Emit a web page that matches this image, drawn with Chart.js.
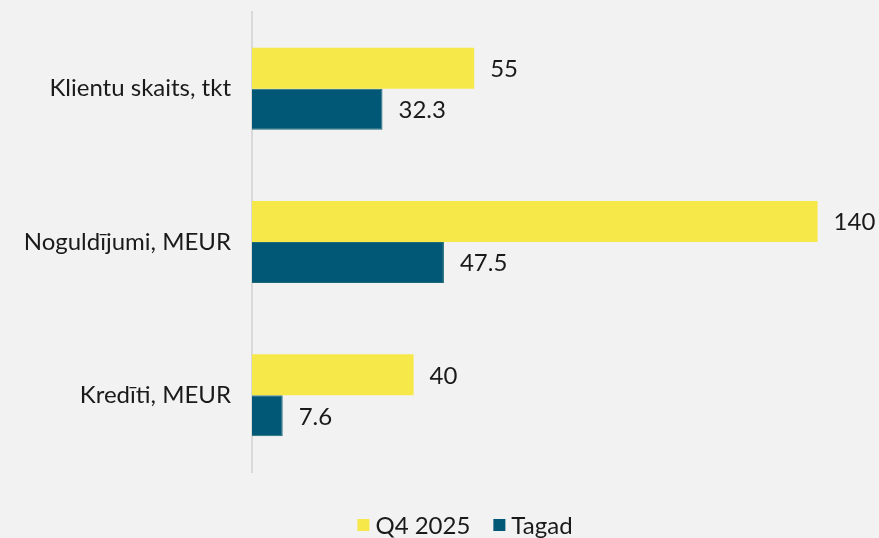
<!DOCTYPE html>
<html>
<head>
<meta charset="utf-8">
<script src="https://cdn.jsdelivr.net/npm/chart.js@4.4.0/dist/chart.umd.min.js"></script>
<style>
  html, body { margin: 0; padding: 0; background: #f2f2f2; }
  #wrap { width: 879px; height: 538px; position: relative; }
</style>
</head>
<body>
<div id="wrap"><canvas id="chart"></canvas></div>
<script>
// Dati
const categories = ['Klientu skaits, tkt', 'Noguldījumi, MEUR', 'Kredīti, MEUR'];
const q4Values = [55, 140, 40];
const tagadValues = [32.3, 47.5, 7.6];
const seriesLabels = ['Q4 2025', 'Tagad'];

const FONT = 'Lato, "Open Sans", sans-serif';
const TEXT_COLOR = '#1a1a1a';

// Fons
const bgPlugin = {
    id: 'bg',
    beforeDraw(chart) {
        const ctx = chart.ctx;
        ctx.save();
        ctx.fillStyle = '#f2f2f2';
        ctx.fillRect(0, 0, chart.width, chart.height);
        ctx.restore();
    }
};

// Vērtību etiķetes pie stabiņu galiem
const valueLabels = {
    id: 'valueLabels',
    afterDatasetsDraw(chart) {
        const ctx = chart.ctx;
        ctx.save();
        ctx.font = '24px ' + FONT;
        ctx.fillStyle = TEXT_COLOR;
        ctx.textAlign = 'left';
        ctx.textBaseline = 'middle';
        chart.data.datasets.forEach((ds, i) => {
            chart.getDatasetMeta(i).data.forEach((bar, j) => {
                ctx.fillText(String(ds.data[j]), bar.x + 16, bar.y + 1);
            });
        });
        ctx.restore();
    }
};

// Leģenda apakšā (kvadrātiņš + teksts, kā oriģinālā)
const bottomLegend = {
    id: 'bottomLegend',
    afterDraw(chart) {
        const ctx = chart.ctx;
        const box = 12, textGap = 6, itemGap = 23;
        const y = 525;
        ctx.save();
        ctx.font = '24px ' + FONT;
        ctx.textBaseline = 'middle';
        ctx.textAlign = 'left';
        const items = chart.data.datasets.map(ds => ({
            label: ds.label,
            color: ds.backgroundColor,
            w: box + textGap + ctx.measureText(ds.label).width
        }));
        const total = items.reduce((s, it) => s + it.w, 0) + itemGap * (items.length - 1);
        let x = 465 - total / 2;
        items.forEach(it => {
            ctx.fillStyle = it.color;
            ctx.fillRect(x, y - box / 2, box, box);
            ctx.fillStyle = TEXT_COLOR;
            ctx.fillText(it.label, x + box + textGap, y + 1);
            x += it.w + itemGap;
        });
        ctx.restore();
    }
};

new Chart(document.getElementById('chart'), {
    type: 'bar',
    data: {
        labels: categories,
        datasets: [
            {
                label: seriesLabels[0],
                data: q4Values,
                backgroundColor: '#f7e84a',
                borderWidth: 0,
                barPercentage: 1,
                categoryPercentage: 0.535
            },
            {
                label: seriesLabels[1],
                data: tagadValues,
                backgroundColor: '#005776',
                borderColor: '#1f6b73',
                borderWidth: 1,
                barPercentage: 1,
                categoryPercentage: 0.535
            }
        ]
    },
    options: {
        indexAxis: 'y',
        responsive: true,
        maintainAspectRatio: false,
        animation: false,
        layout: { padding: { top: 12, right: 21, bottom: 0, left: 0 } },
        scales: {
            x: {
                display: true, min: 0, max: 150,
                grid: { display: false },
                border: { display: false },
                ticks: { display: false },
                afterFit(scale) { scale.height = 66; }
            },
            y: {
                grid: { display: false },
                border: { display: true, color: '#d9d9d9', width: 2 },
                ticks: { color: TEXT_COLOR, font: { family: FONT, size: 24 }, padding: 13 },
                afterFit(scale) {
                    scale.width = 252;
                    scale.paddingTop = 0;
                    scale.paddingBottom = 0;
                }
            }
        },
        plugins: {
            legend: { display: false },
            tooltip: { enabled: false }
        }
    },
    plugins: [bgPlugin, valueLabels, bottomLegend]
});
</script>
</body>
</html>
